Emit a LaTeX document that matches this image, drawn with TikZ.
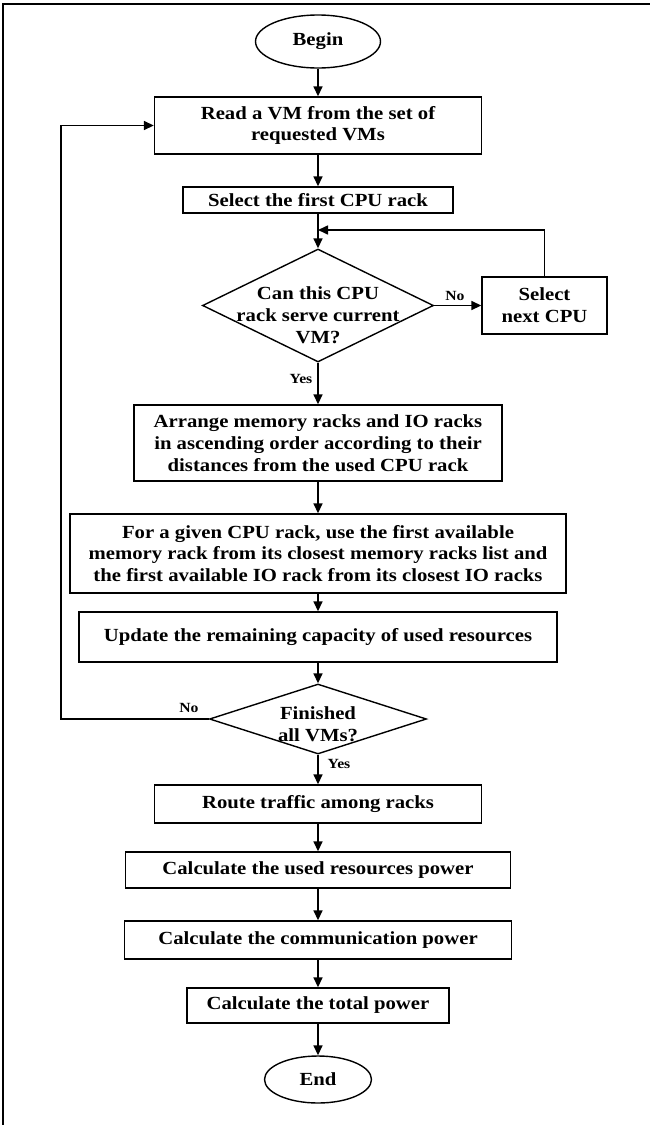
\documentclass[tikz,border=0pt]{standalone}
\usepackage{fontspec}
\setmainfont{Liberation Serif}
\newfontfamily\widefont[FakeStretch=1.12]{Liberation Serif}
\usetikzlibrary{shapes.geometric,arrows.meta}
\begin{document}
\begin{tikzpicture}[x=1pt,y=-1pt,
  box/.style={draw, line width=1.4pt, rectangle, inner sep=0pt, align=center,
    font=\widefont\fontsize{18.5}{21.8}\selectfont\bfseries},
  term/.style={draw, line width=1.4pt, ellipse, inner sep=0pt, align=center,
    font=\widefont\fontsize{18.5}{21.8}\selectfont\bfseries},
  dia/.style={draw, line width=1.4pt, diamond, inner sep=0pt},
  txt/.style={align=center, inner sep=0pt, font=\widefont\fontsize{18.5}{21.8}\selectfont\bfseries},
  lab/.style={inner sep=0pt, font=\widefont\fontsize{14}{16}\selectfont\bfseries},
  flow/.style={line width=1.6pt, -{Triangle[length=10pt,width=9pt]}},
  frame/.style={line width=1.5pt}
]
\useasboundingbox (0,0) rectangle (650,1125);
\draw[frame] (3,1125) -- (3,4) -- (650,4);

\node[term, minimum width=125pt, minimum height=53pt] (begin) at (318,41.5) {Begin};
\node[box, minimum width=327pt, minimum height=57pt] (read) at (318,125.5) {Read a VM from the set of\\requested VMs};
\node[box, minimum width=270pt, minimum height=26pt] (sel1) at (318,200) {Select the first CPU rack};
\node[dia, minimum width=231pt, minimum height=113pt] (d1) at (318,305.5) {};
\node[txt] (d1t) at (318,315.5) {Can this CPU\\rack serve current\\VM?};
\node[box, minimum width=125pt, minimum height=57pt] (next) at (544.5,305.5) {Select\\next CPU};
\node[box, minimum width=368pt, minimum height=76pt] (arr) at (318,443) {Arrange memory racks and IO racks\\in ascending order according to their\\distances from the used CPU rack};
\node[box, minimum width=496pt, minimum height=79pt] (given) at (318,553.5) {For a given CPU rack, use the first available\\memory rack from its closest memory racks list and\\the first available IO rack from its closest IO racks};
\node[box, minimum width=478pt, minimum height=50pt] (upd) at (318,637) {\raisebox{5pt}{Update the remaining capacity of used resources}};
\node[dia, minimum width=217pt, minimum height=70pt] (d2) at (318,719) {};
\node[txt] (d2t) at (318,724) {Finished\\all VMs?};
\node[box, minimum width=327pt, minimum height=38pt] (route) at (318,804) {Route traffic among racks};
\node[box, minimum width=385pt, minimum height=36pt] (used) at (318,870) {Calculate the used resources power};
\node[box, minimum width=387pt, minimum height=38pt] (comm) at (318,940) {Calculate the communication power};
\node[box, minimum width=262pt, minimum height=35pt] (total) at (318,1005.5) {Calculate the total power};
\node[term, minimum width=107pt, minimum height=47pt] (end) at (318,1079.5) {End};

\coordinate (fb) at (318,230);
\coordinate (lp) at (61,719);

\draw[flow] (begin) -- (read);
\draw[flow] (read) -- (sel1);
\draw[flow] (sel1) -- (d1);
\draw[flow] (d1) -- (arr);
\draw[flow] (d1.east) -- (next.west);
\draw[flow] (next.north) |- (fb);
\draw[flow] (arr) -- (given);
\draw[flow] (given) -- (upd);
\draw[flow] (upd) -- (d2);
\draw[flow] (d2.west) -- (lp) |- (read.west);
\draw[flow] (d2) -- (route);
\draw[flow] (route) -- (used);
\draw[flow] (used) -- (comm);
\draw[flow] (comm) -- (total);
\draw[flow] (total) -- (end);

\node[lab] (no1) at (455,296) {No};
\node[lab] (yes1) at (301,379) {Yes};
\node[lab] (no2) at (189,708) {No};
\node[lab] (yes2) at (339,764) {Yes};
\end{tikzpicture}
\end{document}
